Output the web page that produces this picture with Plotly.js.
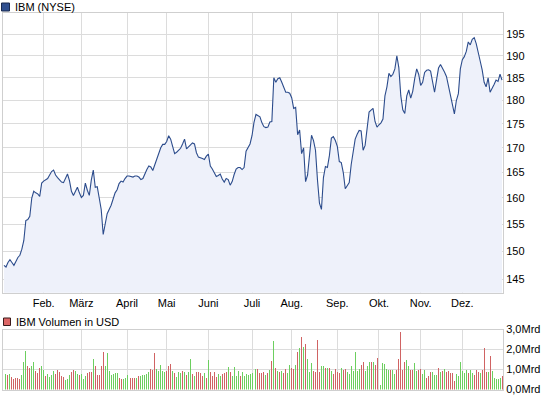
<!DOCTYPE html>
<html><head><meta charset="utf-8">
<script src="https://cdn.plot.ly/plotly-3.0.1.min.js"></script>
<style>html,body{margin:0;padding:0;background:#fff}#chart{width:545px;height:398px}</style>
</head><body><div id="chart"></div><script>
// ---- data (IBM, NYSE, 2011 trading days) ----
const holidays = ['2011-01-17','2011-02-21','2011-04-22','2011-05-30','2011-07-04','2011-09-05','2011-11-24','2011-12-26'];
const monthLabels = ['Feb.','März','April','Mai','Juni','Juli','Aug.','Sep.','Okt.','Nov.','Dez.'];
const priceTicks = [145,150,155,160,165,170,175,180,185,190,195];
const volTicks = [0,1,2,3];
const volTickText = ['0,0Mrd','1,0Mrd','2,0Mrd','3,0Mrd'];

const price = [
147.5,147.2,148.0,148.5,148.0,147.5,148.2,148.9,149.3,150.4,
152.0,155.7,155.9,156.5,160.0,161.3,161.0,160.8,160.3,162.9,
163.3,163.5,163.8,164.5,165.2,165.5,164.5,164.0,163.6,163.1,
163.0,164.0,164.7,163.4,161.3,160.5,161.3,162.1,161.0,160.1,
160.5,162.9,161.5,160.5,163.5,165.5,162.1,162.2,160.0,157.8,
153.1,155.0,157.0,157.8,158.6,159.8,161.0,161.6,162.8,163.3,
163.1,163.8,164.3,164.3,164.2,164.1,164.3,164.3,164.1,163.6,
163.8,164.9,165.6,166.3,166.1,165.4,166.5,167.8,168.5,170.0,
170.7,170.7,171.3,172.5,171.8,170.0,168.8,169.1,169.6,169.9,
170.8,171.8,169.8,170.2,170.8,171.0,170.8,169.0,168.1,168.0,
167.8,167.6,168.3,168.7,166.3,165.7,164.9,164.2,164.4,164.7,
163.7,163.1,163.8,163.6,162.5,163.2,164.6,165.7,166.0,166.0,
165.6,166.0,169.3,170.2,170.8,172.5,175.3,177.0,176.8,176.5,
175.2,174.4,174.2,174.3,175.4,175.5,185.0,184.0,184.8,185.0,
184.0,183.0,181.8,181.8,181.6,180.6,178.3,178.5,172.7,173.7,
168.8,170.0,163.2,164.5,168.5,172.6,171.5,169.5,163.5,159.0,
157.8,164.0,166.2,166.0,168.4,172.0,172.3,171.5,170.3,167.2,
167.0,165.0,161.8,162.3,163.0,166.6,169.5,171.8,172.8,173.6,
173.5,169.5,170.5,174.5,177.5,177.9,178.3,175.5,174.3,174.8,
175.2,176.0,181.0,183.0,186.0,185.3,185.8,187.0,190.0,187.3,
181.0,178.0,177.2,181.0,182.3,180.5,182.0,184.8,187.0,185.8,
183.3,184.0,186.2,186.7,186.8,186.5,183.8,181.8,184.5,187.2,
188.0,187.3,186.3,185.3,183.2,180.8,179.0,177.1,180.0,181.5,
187.0,189.1,189.8,191.0,193.2,192.5,193.8,194.2,192.8,190.4,
188.8,186.8,184.0,183.0,185.0,181.8,182.5,183.5,184.5,184.2,
185.8,184.5
];

// traded volume in billions of USD (Mrd)
const volume = [
0.71,0.76,0.71,0.76,0.63,0.51,0.60,0.60,0.51,0.71,
1.39,1.93,1.17,1.10,1.17,1.39,0.92,0.85,1.08,1.17,
0.97,0.66,0.76,0.63,0.75,0.92,0.80,0.97,0.88,0.66,
0.63,0.49,0.54,0.71,0.88,0.97,0.92,0.76,0.75,0.80,
0.54,0.68,0.85,0.86,0.86,1.51,1.19,0.71,0.71,1.17,
1.86,1.17,1.83,0.92,0.75,0.80,0.85,0.85,0.60,0.54,
0.54,0.60,0.71,0.54,0.60,0.60,0.60,0.60,0.66,0.68,
0.75,0.75,0.80,0.88,1.02,0.97,1.85,1.02,0.93,1.22,
0.92,0.88,0.93,1.17,1.27,0.92,0.85,0.63,0.88,0.85,
0.92,0.88,0.75,0.88,1.51,0.80,0.68,0.88,0.88,0.83,
0.66,0.83,0.58,1.47,0.88,0.66,0.88,0.63,0.76,0.68,
0.80,0.85,0.88,1.14,0.88,0.68,1.14,0.68,0.92,0.68,
0.88,0.68,0.80,0.71,0.76,0.83,0.80,1.05,1.05,0.85,
0.83,0.86,0.72,0.83,0.97,1.42,2.44,1.10,0.92,0.88,
0.92,0.83,1.05,0.83,1.22,1.08,1.02,1.22,1.86,2.07,
2.63,2.12,2.29,1.53,0.88,1.34,0.92,0.88,2.49,0.88,
1.17,1.17,1.08,1.10,1.10,0.92,0.76,1.02,0.88,0.83,
1.10,1.00,1.05,0.88,0.76,1.17,0.92,1.86,0.92,1.05,
1.22,1.39,0.92,1.17,1.36,1.36,1.39,1.25,1.56,1.56,
0.25,1.31,1.27,1.05,1.00,1.00,1.00,0.80,1.00,1.51,
2.86,1.00,1.36,1.47,1.17,0.97,0.97,1.34,0.92,0.97,
1.05,0.76,0.97,0.60,0.66,0.88,0.88,0.71,0.71,1.10,
0.88,0.92,1.05,0.88,0.92,0.85,0.83,0.42,0.76,0.66,
1.36,0.92,0.85,0.97,0.83,0.97,0.83,0.75,0.97,0.88,
0.85,0.97,2.10,0.88,0.88,1.69,0.92,0.58,0.54,0.54,
0.60,0.66
];

// 1 = day closed up (green bar), 0 = down (red bar)
const volUp = [
1,1,0,1,0,0,0,0,0,1,
1,1,0,0,1,1,0,0,0,1,
1,0,1,1,1,1,0,0,0,0,
0,1,1,1,0,0,1,1,0,1,
1,1,0,0,0,1,0,0,0,0,
0,1,1,1,1,1,1,1,0,0,
1,1,1,0,0,0,0,1,0,1,
1,1,1,1,0,0,0,1,1,1,
1,1,0,0,0,1,0,1,1,1,
0,1,0,1,1,0,1,0,0,0,
0,1,0,1,0,0,0,0,1,1,
0,0,0,1,0,1,1,1,1,0,
1,1,1,1,1,1,1,1,0,0,
0,0,1,0,1,0,1,0,1,0,
1,0,0,1,1,0,0,1,0,1,
0,1,0,1,1,1,0,0,0,0,
1,1,0,1,0,1,0,0,0,0,
1,0,0,1,1,1,1,1,1,1,
0,0,1,1,1,0,1,0,0,1,
1,1,1,1,1,0,1,1,0,0,
0,0,0,1,1,0,0,1,1,0,
0,1,1,0,0,0,1,1,1,0,
1,0,1,0,0,0,0,0,1,1,
1,1,1,1,0,1,1,0,0,0,
1,0,0,0,1,0,1,1,1,1,
1,0
];

// ---- trading calendar ----
const dates = [];
for (let d = new Date(Date.UTC(2011,0,3)); d.getUTCFullYear() === 2011; d.setUTCDate(d.getUTCDate()+1)) {
  const wd = d.getUTCDay();
  const s = d.toISOString().slice(0,10);
  if (wd === 0 || wd === 6 || holidays.includes(s)) continue;
  dates.push(s);
}
const monthStarts = [];
let lastM = dates[0].slice(5,7);
for (const s of dates) { const m = s.slice(5,7); if (m !== lastM) { monthStarts.push(s); lastM = m; } }

const n = Math.min(dates.length, price.length, volume.length);
const X = dates.slice(0, n);

const W = 545, H = 398;
const px = v => v / W;
const py = v => 1 - v / H;
const FONT = 'Liberation Sans, Arial, sans-serif';
const GRID = '#dcdcdc', FRAME = '#cfcfcf';

const traces = [
  {x: X, y: price.slice(0,n), type:'scatter', mode:'lines', xaxis:'x', yaxis:'y',
   line:{color:'#2c4c8c', width:1.1}, fill:'tozeroy', fillcolor:'#eef1fa', hoverinfo:'skip'},
  {x: X, y: volume.slice(0,n), type:'bar', xaxis:'x2', yaxis:'y2', width:0.5,
   marker:{color: volUp.slice(0,n).map(u => u ? '#6ccf5f' : '#d06363'), line:{width:0}}, hoverinfo:'skip'}
];

const xCommon = {type:'category', range:[-0.5, n-0.5], tickvals: monthStarts, ticktext: monthLabels,
  showgrid:true, gridcolor:GRID, gridwidth:1, showline:true, mirror:true, linecolor:FRAME, linewidth:1,
  ticks:'', zeroline:false, fixedrange:true, tickfont:{family:FONT, size:11, color:'#000'}};

const layout = {
  width:W, height:H, margin:{l:0,r:0,t:0,b:0}, autosize:false,
  paper_bgcolor:'#fff', plot_bgcolor:'#fff', showlegend:false, bargap:0,
  xaxis: Object.assign({}, xCommon, {domain:[px(3), px(503)], anchor:'y'}),
  yaxis: {type:'log', domain:[py(292.7), py(13.3)], range:[Math.log10(142.7), Math.log10(200)],
    side:'right', anchor:'x', tickvals:priceTicks, ticktext:priceTicks.map(String),
    showgrid:true, gridcolor:GRID, showline:true, mirror:true, linecolor:FRAME, ticks:'', zeroline:false,
    tickfont:{family:FONT, size:11, color:'#000'}, fixedrange:true},
  xaxis2: Object.assign({}, xCommon, {domain:[px(3), px(503)], anchor:'y2', showticklabels:false}),
  yaxis2: {domain:[py(389.5), py(329.5)], range:[0,3], side:'right', anchor:'x2',
    tickvals:volTicks, ticktext:volTickText, showgrid:true, gridcolor:GRID, showline:true, mirror:true,
    linecolor:FRAME, ticks:'', zeroline:false, tickfont:{family:FONT, size:11, color:'#000'}, fixedrange:true},
  shapes: [
    {type:'rect', xref:'paper', yref:'paper', x0:px(1.5), x1:px(9.5), y0:py(11), y1:py(3),
     fillcolor:'#2f4f8f', line:{color:'#1b2b4f', width:1}},
    {type:'rect', xref:'paper', yref:'paper', x0:px(3.5), x1:px(10.5), y0:py(325.5), y1:py(318),
     fillcolor:'#dd6666', line:{color:'#3a1a1a', width:1}}
  ],
  annotations: [
    {xref:'paper', yref:'paper', x:px(13), y:py(7), xanchor:'left', yanchor:'middle', showarrow:false,
     text:'IBM (NYSE)', font:{family:FONT, size:11, color:'#000'}},
    {xref:'paper', yref:'paper', x:px(14), y:py(321.8), xanchor:'left', yanchor:'middle', showarrow:false,
     text:'IBM Volumen in USD', font:{family:FONT, size:11, color:'#000'}}
  ]
};

Plotly.newPlot('chart', traces, layout, {staticPlot:true, displayModeBar:false});
</script></body></html>
